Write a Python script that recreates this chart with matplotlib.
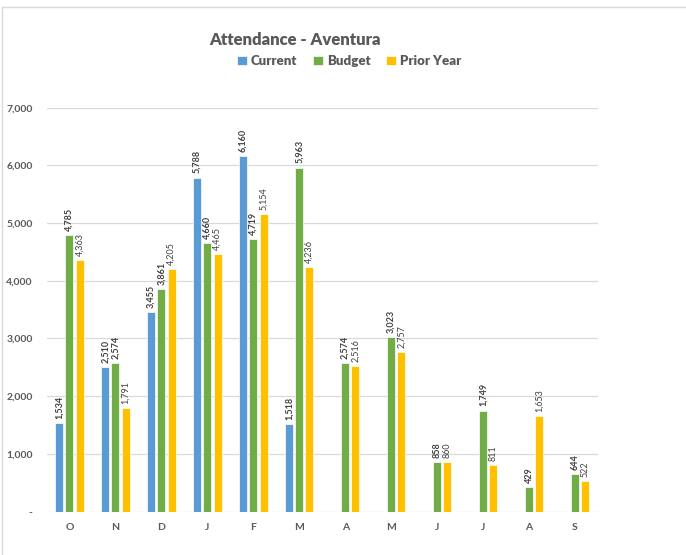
import numpy as np
import matplotlib
matplotlib.use('Agg')
import matplotlib.pyplot as plt
from matplotlib.lines import Line2D

plt.rcParams['font.family'] = ['Lato', 'DejaVu Sans']

months = ['O', 'N', 'D', 'J', 'F', 'M', 'A', 'M', 'J', 'J', 'A', 'S']
current = [1534, 2510, 3455, 5788, 6160, 1518, None, None, None, None, None, None]
budget = [4785, 2574, 3861, 4660, 4719, 5963, 2574, 3023, 858, 1749, 429, 644]
prior_year = [4363, 1791, 4205, 4465, 5154, 4236, 2516, 2757, 860, 811, 1653, 522]

series = [('Current', current, '#5B9BD5', 'bold'),
          ('Budget', budget, '#70AD47', 'bold'),
          ('Prior Year', prior_year, '#FFC000', 'normal')]

W, H = 686, 555
fig = plt.figure(figsize=(W / 100, H / 100), dpi=100)
ax = fig.add_axes([46.5 / W, 1 - 511.5 / H, 551.5 / W, (511.5 - 107.7) / H])

x = np.arange(len(months))
bw = 0.174
step = 0.222
for i, (name, vals, col, wt) in enumerate(series):
    xs = [xi + (i - 1) * step for xi, v in zip(x, vals) if v is not None]
    vs = [v for v in vals if v is not None]
    ax.bar(xs, vs, width=bw, color=col, edgecolor='white', linewidth=0.5,
           label=name, zorder=3)
    for xx, v in zip(xs, vs):
        ax.annotate(f'{v:,}', (xx, v), xytext=(0, 3), textcoords='offset points',
                    rotation=90, ha='center', va='bottom', fontsize=6.5,
                    fontweight=wt, color='#404040')

ax.set_xlim(-0.5, len(months) - 0.5)
ax.set_ylim(0, 7000)
ax.set_yticks(range(0, 7001, 1000))
ax.set_yticklabels(['-'] + [f'{v:,}' for v in range(1000, 7001, 1000)])
ax.set_xticks(x)
ax.set_xticklabels(months)
for lab in ax.get_yticklabels() + ax.get_xticklabels():
    lab.set_fontweight('bold')
    lab.set_color('#595959')
    lab.set_fontsize(7.5)
ax.tick_params(axis='both', length=0)
ax.tick_params(axis='y', pad=10)
ax.tick_params(axis='x', pad=8)
ax.grid(axis='y', color='#D9D9D9', linewidth=0.9, zorder=0)
for s in ax.spines.values():
    s.set_visible(False)

fig.text(294.5 / W, 1 - 40 / H, 'Attendance - Aventura', ha='center', va='center',
         fontsize=12, fontweight='heavy', color='#595959')
fig.legend(loc='center', bbox_to_anchor=(349 / W, 1 - 61 / H), ncol=3,
           frameon=False, handlelength=0.75, handleheight=0.75, handletextpad=0.3,
           columnspacing=1.2, prop={'weight': 'heavy', 'size': 9.5},
           labelcolor='#595959')

# chart border (clipped at right and bottom)
fig.add_artist(Line2D([2 / W, 1], [1 - 7 / H, 1 - 7 / H], color='#D9D9D9', lw=1))
fig.add_artist(Line2D([2 / W, 2 / W], [0, 1 - 7 / H], color='#D9D9D9', lw=1))

fig.savefig('out.png', dpi=100)
